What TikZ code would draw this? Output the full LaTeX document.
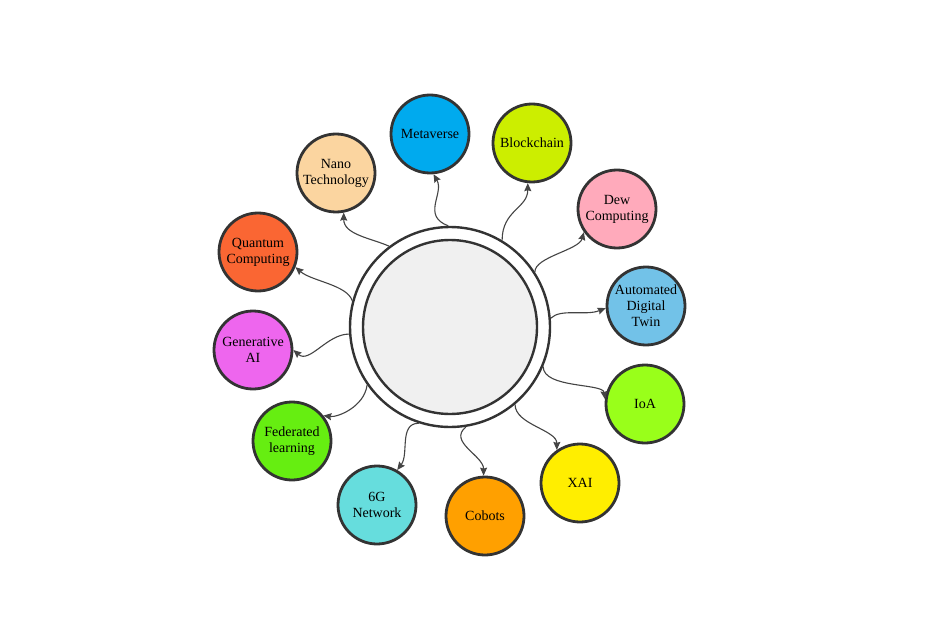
\documentclass[tikz,border=0pt]{standalone}
\usepackage{fontspec}
\setmainfont{Liberation Serif}
\usetikzlibrary{arrows.meta}
\definecolor{edge}{HTML}{333333}
\definecolor{linkc}{HTML}{444444}
\definecolor{hubgray}{HTML}{F0F0F0}
\definecolor{cMeta}{HTML}{00AAEE}
\definecolor{cBlock}{HTML}{CCEE00}
\definecolor{cNano}{HTML}{FBD5A0}
\definecolor{cDew}{HTML}{FFAABB}
\definecolor{cQuant}{HTML}{FA6633}
\definecolor{cAuto}{HTML}{72C2E8}
\definecolor{cIoA}{HTML}{99FF1A}
\definecolor{cGen}{HTML}{EE66EE}
\definecolor{cFed}{HTML}{66EE11}
\definecolor{cSixG}{HTML}{66DDDD}
\definecolor{cCob}{HTML}{FFA000}
\definecolor{cXAI}{HTML}{FFEE00}
\begin{document}
\begin{tikzpicture}[x=1pt,y=-1pt,
  topic/.style={circle,draw=edge,line width=2.8pt,minimum size=78pt,inner sep=0pt,
    align=center,font=\fontsize{14}{16}\selectfont,text=black},
  hub/.style={circle,draw=edge,line width=2.4pt,inner sep=0pt},
  link/.style={draw=linkc,line width=1.1pt,-{Stealth[length=8pt,width=7pt,inset=1pt]}}]
\useasboundingbox (0,0) rectangle (925,636);
\fill[white] (0,0) rectangle (925,636);
% hub
\node[hub,fill=white,minimum size=200pt] (c) at (450,327) {};
\node[hub,fill=hubgray,minimum size=174pt] (ci) at (450,327) {};
% topics
\node[topic,fill=cMeta]  (meta)  at (430,134) {Metaverse};
\node[topic,fill=cBlock] (block) at (532,143) {Blockchain};
\node[topic,fill=cNano]  (nano)  at (336,173) {Nano\\Technology};
\node[topic,fill=cDew]   (dew)   at (617,209) {Dew\\Computing};
\node[topic,fill=cQuant] (quant) at (258,252) {Quantum\\Computing};
\node[topic,fill=cAuto]  (auto)  at (646,306) {Automated\\Digital\\Twin};
\node[topic,fill=cIoA]   (ioa)   at (645,404) {IoA};
\node[topic,fill=cGen]   (gen)   at (253,350) {Generative\\AI};
\node[topic,fill=cFed]   (fed)   at (292,441) {Federated\\learning};
\node[topic,fill=cSixG]  (sixg)  at (377,505) {6G\\Network};
\node[topic,fill=cCob]   (cob)   at (485,516) {Cobots};
\node[topic,fill=cXAI]   (xai)   at (580,483) {XAI};
% connectors
\draw[link] (c.127.5) .. controls +(-18,-8) and +(0,22) .. (nano.281);
\draw[link] (c.91.7) .. controls +(-27,-10) and +(11,19) .. (meta.275);
\draw[link] (c.59.1) .. controls +(0,-30) and +(0,25) .. (block.264);
\draw[link] (c.33.2) .. controls +(0,-15) and +(-5,18) .. (dew.215.5);
\draw[link] (c.5) .. controls +(10,-10) and +(-20,8) .. (auto.183);
\draw[link] (c.-23.3) .. controls +(0,22) and +(-2,-16) .. (ioa.173);
\draw[link] (c.-50.4) .. controls +(0,20) and +(0,-20) .. (xai.125.8);
\draw[link] (c.-81.6) .. controls +(-18,15) and +(0,-20) .. (cob.92.7);
\draw[link] (c.-108.6) .. controls +(-20,0) and +(12,-16) .. (sixg.60.4);
\draw[link] (c.215.4) .. controls +(-3,22) and +(14,2) .. (fed.39);
\draw[link] (c.184.5) .. controls +(-22,0) and +(16,14) .. (gen.0);
\draw[link] (c.165) .. controls +(-5,-16) and +(16,14) .. (quant.-22.3);
\end{tikzpicture}
\end{document}
